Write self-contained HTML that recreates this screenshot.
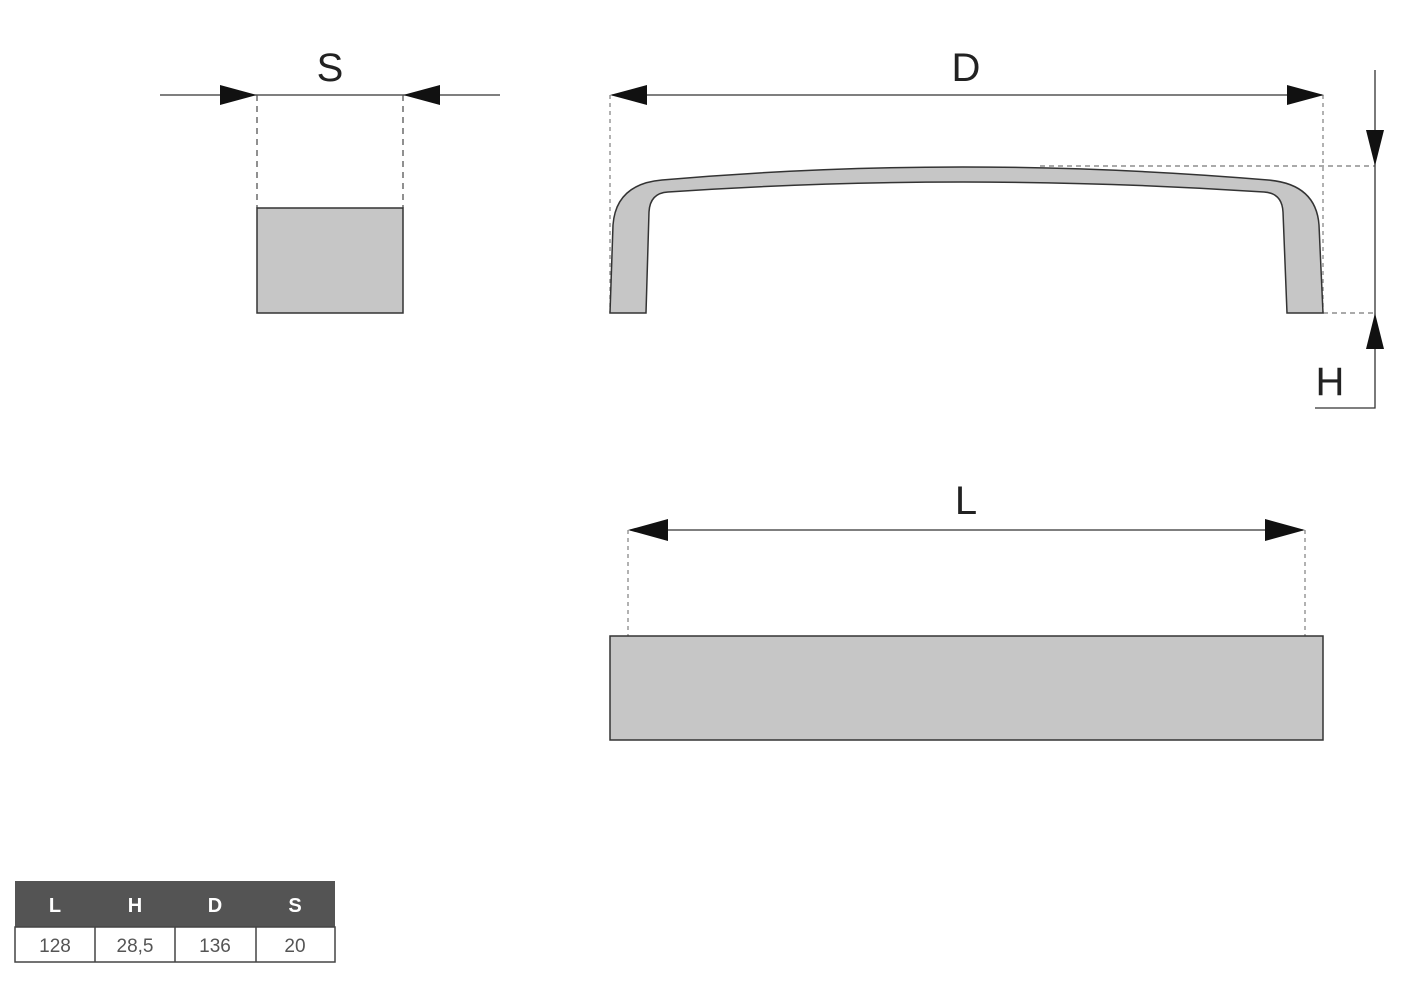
<!DOCTYPE html>
<html><head><style>
html,body{margin:0;padding:0;background:#fff;}
svg{display:block}
</style></head><body>
<svg width="1420" height="984" viewBox="0 0 1420 984" xmlns="http://www.w3.org/2000/svg" font-family="Liberation Sans, sans-serif">
<g stroke="#333" stroke-width="1.3" fill="none">
<line x1="160" y1="95" x2="500" y2="95"/>
<line x1="257" y1="95" x2="257" y2="208" stroke-dasharray="6,5" stroke="#555"/>
<line x1="403" y1="95" x2="403" y2="208" stroke-dasharray="6,5" stroke="#555"/>
<line x1="612" y1="95" x2="1322" y2="95"/>
<line x1="610" y1="95" x2="610" y2="313" stroke-dasharray="4,4" stroke="#888"/>
<line x1="1323" y1="95" x2="1323" y2="313" stroke-dasharray="4,4" stroke="#888"/>
<line x1="1040" y1="166" x2="1375" y2="166" stroke-dasharray="5,4" stroke="#777"/>
<line x1="1323" y1="313" x2="1375" y2="313" stroke-dasharray="5,4" stroke="#777"/>
<polyline points="1375,70 1375,408 1315,408"/>
<line x1="630" y1="530" x2="1303" y2="530"/>
<line x1="628" y1="530" x2="628" y2="636" stroke-dasharray="4,4" stroke="#888"/>
<line x1="1305" y1="530" x2="1305" y2="636" stroke-dasharray="4,4" stroke="#888"/>
</g>
<g fill="#111">
<polygon points="257,95 220,85 220,105"/>
<polygon points="403,95 440,85 440,105"/>
<polygon points="610,95 647,85 647,105"/>
<polygon points="1324,95 1287,85 1287,105"/>
<polygon points="1375,166 1366,130 1384,130"/>
<polygon points="1375,313 1366,349 1384,349"/>
<polygon points="628,530 668,519 668,541"/>
<polygon points="1305,530 1265,519 1265,541"/>
</g>
<rect x="257" y="208" width="146" height="105" fill="#c6c6c6" stroke="#333" stroke-width="1.5"/>
<path d="M610,313 L613,225 Q616,184 662,180 Q960,154 1268,180 Q1316,184 1319,225 L1323,313 L1287,313 L1283,212 Q1282,193 1264,192 Q960,172 668,192 Q650,193 649,212 L646,313 Z" fill="#c6c6c6" stroke="#333" stroke-width="1.5"/>
<rect x="610" y="636" width="713" height="104" fill="#c6c6c6" stroke="#333" stroke-width="1.5"/>
<g font-size="40" fill="#222" text-anchor="middle">
<text x="330" y="81">S</text>
<text x="966" y="81">D</text>
<text x="966" y="514">L</text>
<text x="1330" y="395">H</text>
</g>
<rect x="15" y="881" width="320" height="46" fill="#545454"/>
<rect x="15" y="927" width="320" height="35" fill="#fff" stroke="#444" stroke-width="1.5"/>
<g stroke="#444" stroke-width="1.5">
<line x1="95" y1="927" x2="95" y2="962"/>
<line x1="175" y1="927" x2="175" y2="962"/>
<line x1="256" y1="927" x2="256" y2="962"/>
</g>
<g font-size="20" font-weight="bold" fill="#fff" text-anchor="middle">
<text x="55" y="912">L</text><text x="135" y="912">H</text><text x="215" y="912">D</text><text x="295" y="912">S</text>
</g>
<g font-size="19" fill="#555" text-anchor="middle">
<text x="55" y="952">128</text><text x="135" y="952">28,5</text><text x="215" y="952">136</text><text x="295" y="952">20</text>
</g>
</svg>
</body></html>
